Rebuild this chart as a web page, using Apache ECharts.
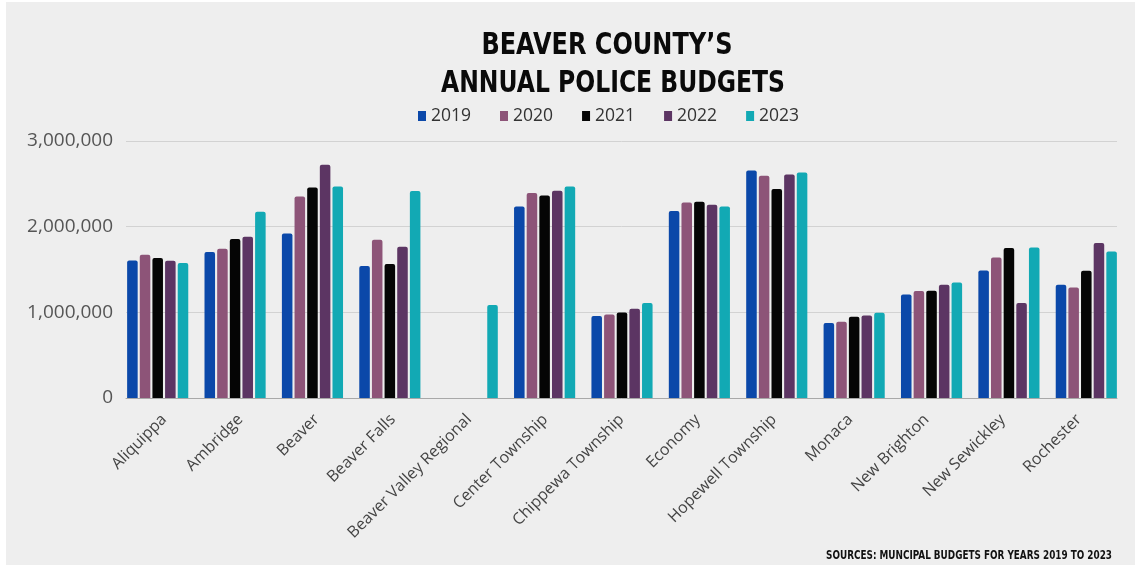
<!DOCTYPE html>
<html>
<head>
<meta charset="utf-8">
<script src="https://cdn.jsdelivr.net/npm/echarts@6/dist/echarts.min.js"></script>
<style>
  html, body { margin: 0; padding: 0; background: #ffffff; width: 1137px; height: 565px; overflow: hidden; }
  #chart { position: absolute; left: 6px; top: 2px; width: 1129px; height: 563px; background: #eeeeee; }
</style>
</head>
<body>
<div id="chart"></div>
<script>
// Municipalities along the x axis
const categories = [
  'Aliquippa', 'Ambridge', 'Beaver', 'Beaver Falls', 'Beaver Valley Regional',
  'Center Township', 'Chippewa Township', 'Economy', 'Hopewell Township',
  'Monaca', 'New Brighton', 'New Sewickley', 'Rochester'
];

// Annual police budgets (USD) per year
const years = ['2019', '2020', '2021', '2022', '2023'];
const budget2019 = [1606000, 1703000, 1921000, 1540000, null, 2236000, 957000, 2182000, 2656000, 875000, 1209000, 1489000, 1322000];
const budget2020 = [1672000, 1742000, 2353000, 1847000, null, 2392000, 976000, 2283000, 2594000, 890000, 1248000, 1641000, 1291000];
const budget2021 = [1634000, 1855000, 2458000, 1563000, null, 2364000, 999000, 2291000, 2439000, 949000, 1252000, 1750000, 1485000];
const budget2022 = [1602000, 1882000, 2722000, 1765000, null, 2419000, 1042000, 2256000, 2609000, 964000, 1322000, 1108000, 1809000];
const budget2023 = [1575000, 2174000, 2469000, 2415000, 1085000, 2469000, 1108000, 2236000, 2633000, 995000, 1349000, 1757000, 1711000];

// Y axis ticks
const yTicks = [0, 1000000, 2000000, 3000000];

const yearColors = ['#0b48a9', '#8d5478', '#050505', '#5c3563', '#12a9b4'];
const budgetsByYear = [budget2019, budget2020, budget2021, budget2022, budget2023];

const chart = echarts.init(document.getElementById('chart'), null, { renderer: 'canvas' });

const condensed = '"Liberation Sans Narrow", "DejaVu Sans Condensed", "Roboto Condensed", sans-serif';
const bodyFont = '"Open Sans", "Noto Sans", sans-serif';

const yMin = yTicks[0];
const yMax = yTicks[yTicks.length - 1];
const yStep = yTicks[1] - yTicks[0];

// Bars sit in grid 0 (bar groups reach the plot edges);
// grid 1 carries the visible axes, gridlines and labels.
const series = years.map((y, i) => ({
  name: y,
  type: 'bar',
  xAxisIndex: 0,
  yAxisIndex: 0,
  data: budgetsByYear[i],
  barGap: '20%',
  barCategoryGap: '21%',
  itemStyle: { color: yearColors[i], borderRadius: [2, 2, 0, 0] },
  emphasis: { disabled: true }
}));

function titleText(text, cx, cy, size, sx) {
  return {
    type: 'text', x: cx, y: cy, scaleX: sx, scaleY: 1,
    style: { text: text, x: 0, y: 0, align: 'center', verticalAlign: 'middle',
             font: 'bold ' + size + 'px ' + condensed, fill: '#0a0a0a' }
  };
}

chart.setOption({
  backgroundColor: '#eeeeee',
  animation: false,
  color: yearColors,
  graphic: [
    titleText('BEAVER COUNTY\u2019S', 601, 44, 30, 0.89),
    titleText('ANNUAL POLICE BUDGETS', 607, 82, 30, 0.87),
    {
      type: 'text', x: 1106, y: 554, scaleX: 0.82, scaleY: 1,
      style: { text: 'SOURCES: MUNCIPAL BUDGETS FOR YEARS 2019 TO 2023', x: 0, y: 0,
               align: 'right', verticalAlign: 'middle',
               font: 'bold 12px ' + condensed, fill: '#111111' }
    }
  ],
  legend: {
    data: years,
    left: 407,
    top: 100,
    icon: 'rect',
    itemWidth: 8,
    itemHeight: 10,
    itemGap: 29,
    textStyle: { fontFamily: bodyFont, fontSize: 17.5, color: '#333333' }
  },
  grid: [
    { left: 113, right: 10, top: 139, bottom: 167 },
    { left: 120, right: 18, top: 139, bottom: 167 }
  ],
  xAxis: [
    {
      type: 'category', gridIndex: 0, data: categories,
      axisLine: { show: false }, axisTick: { show: false }, axisLabel: { show: false }
    },
    {
      type: 'category', gridIndex: 1, data: categories,
      axisLine: { show: true, lineStyle: { color: '#a8a8a8', width: 1 } },
      axisTick: { show: false },
      axisLabel: {
        rotate: 45,
        interval: 0,
        margin: 19,
        fontFamily: bodyFont,
        fontSize: 16,
        color: '#444444'
      }
    }
  ],
  yAxis: [
    {
      type: 'value', gridIndex: 0, min: yMin, max: yMax, interval: yStep,
      axisLine: { show: false }, axisTick: { show: false },
      axisLabel: { show: false }, splitLine: { show: false }
    },
    {
      type: 'value', gridIndex: 1, min: yMin, max: yMax, interval: yStep,
      axisLine: { show: false },
      axisTick: { show: false },
      splitLine: { lineStyle: { color: '#d2d2d2', width: 1 } },
      axisLabel: {
        margin: 13,
        fontFamily: bodyFont,
        fontSize: 19,
        color: '#555555',
        formatter: v => v.toLocaleString('en-US')
      }
    }
  ],
  series: series
});
</script>
</body>
</html>
